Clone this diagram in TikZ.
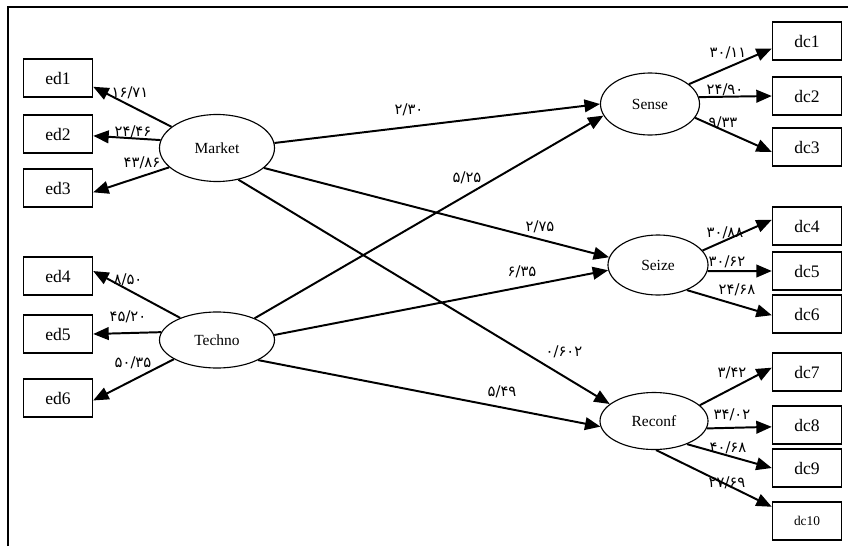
\documentclass[tikz,border=0pt]{standalone}
\usepackage{fontspec}
\setmainfont{Liberation Serif}
\newfontfamily\fanum{DejaVu Sans}
\usetikzlibrary{shapes.geometric,arrows.meta}

\begin{document}
\begin{tikzpicture}[x=0.025cm,y=-0.025cm,
  box/.style={rectangle,draw,line width=1pt,minimum width=1.725cm,minimum height=0.95cm,inner sep=1pt,font=\fontsize{12.5}{14}\selectfont},
  lat/.style={ellipse,draw,line width=0.8pt,inner sep=0pt,font=\fontsize{11}{13}\selectfont},
  arr/.style={line width=1.4pt,-{Triangle[length=11pt,width=9pt]}},
  num/.style={inner sep=0pt,font=\fanum\fontsize{10.5}{12}\selectfont}]
\useasboundingbox (0,0) rectangle (848,546);
\draw[line width=1.5pt] (8,546) -- (8,7) -- (848,7);

\node[lat,minimum width=2.875cm,minimum height=1.675cm] (Market) at (217,148){Market};
\node[lat,minimum width=2.875cm,minimum height=1.4cm] (Techno) at (217,340){Techno};
\node[lat,minimum width=2.475cm,minimum height=1.55cm] (Sense) at (650,104){Sense};
\node[lat,minimum width=2.5cm,minimum height=1.5cm] (Seize) at (658,265){Seize};
\node[lat,minimum width=2.7cm,minimum height=1.425cm] (Reconf) at (654,421){Reconf};

\foreach \n/\y in {1/78,2/134,3/188,4/276,5/334,6/398}
	\node[box] (ed\n) at (58,\y){ed\n};
\foreach \n/\y in {1/41,2/96,3/147,4/226,5/271,6/314,7/372,8/425,9/468}
	\node[box] (dc\n) at (807,\y){dc\n};
\node[box,font=\fontsize{9.5}{11}\selectfont] (dc10) at (807,521){dc10};

\foreach \from/\a/\to/\b in {Market/155/ed1/-14,Market/172/ed2/-3,Market/202/ed3/-7,
	Techno/149/ed4/8,Techno/172/ed5/0,Techno/204/ed6/-4,
	Market/5/Sense/180,Techno/30/Sense/194,Market/-23/Seize/171,
	Techno/5/Seize/186,Market/-56/Reconf/159,Techno/-26/Reconf/186,
	Sense/27/dc1/192,Sense/8/dc2/180,Sense/-17/dc3/188,
	Seize/18/dc4/170,Seize/-7/dc5/180,Seize/-41/dc6/182,
	Reconf/19/dc7/173,Reconf/-8/dc8/183,Reconf/-35/dc9/180,Reconf/-86/dc10/158}
	\draw[arr] (\from.\a)--(\to.\b);

\foreach \n/\x/\y/\t in {1/130/93/{۱۶/۷۱},2/133/132/{۲۴/۴۶},3/142/163/{۴۳/۸۶},
	4/128/280/{۸/۵۰},5/128/317/{۴۵/۲۰},6/133/363/{۵۰/۳۵},
	7/409/110/{۲/۳۰},8/467/178/{۵/۲۵},9/540/227/{۲/۷۵},10/522/272/{۶/۳۵},
	11/564/352/{۰/۶۰۲},12/502/392/{۵/۴۹},
	13/728/53/{۳۰/۱۱},14/725/90/{۲۴/۹۰},15/723/123/{۹/۳۳},
	16/725/233/{۳۰/۸۸},17/727/262/{۳۰/۶۲},18/737/290/{۲۴/۶۸},
	19/732/373/{۳/۴۲},20/732/415/{۳۴/۰۲},21/728/448/{۴۰/۶۸},22/727/483/{۲۷/۶۹}}
	\node[num] (l\n) at (\x,\y){\t};
\end{tikzpicture}
\end{document}
